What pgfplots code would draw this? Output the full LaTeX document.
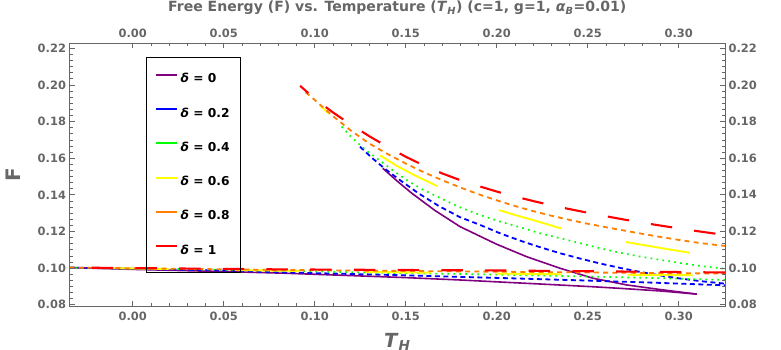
\documentclass[border=0pt]{standalone}
\usepackage{fontspec}
\setmainfont{DejaVu Sans}
\usepackage{pgfplots}
\pgfplotsset{compat=1.18}
\definecolor{axgray}{RGB}{102,102,102}
\definecolor{mpurple}{RGB}{128,0,128}
\definecolor{mblue}{RGB}{0,0,255}
\definecolor{mgreen}{RGB}{0,255,0}
\definecolor{myellow}{RGB}{255,255,0}
\definecolor{morange}{RGB}{255,128,0}
\definecolor{mred}{RGB}{255,0,0}
\pgfplotsset{common/.style={
  scale only axis, width=655.5bp, height=263bp,
  at={(0,0)}, anchor=south west,
  xmin=-0.0347, xmax=0.3254, ymin=0.0793, ymax=0.2229,
  xtick={0,0.05,0.1,0.15,0.2,0.25,0.3},
  ytick={0.08,0.1,0.12,0.14,0.16,0.18,0.2,0.22},
  minor x tick num=4, minor y tick num=5,
  tick align=inside, tick pos=both,
  major tick length=5bp, minor tick length=3bp,
  axis line style={axgray, line width=0.9bp},
  every tick/.style={axgray, line width=0.7bp},
  ticklabel style={font=\fontsize{11.5}{13}\selectfont\bfseries, text=axgray},
  /pgf/number format/fixed, /pgf/number format/fixed zerofill,
  /pgf/number format/precision=2, /pgf/number format/assume math mode=true,
}}
\begin{document}
\begin{tikzpicture}
\begin{axis}[common,
  xticklabel pos=lower, yticklabel pos=left,
  xticklabel style={yshift=-2.7bp},
  title={Free Energy (F) vs. Temperature (\textit{T}\textsubscript{\textit{H}}) (c=1, g=1, \textit{α}\textsubscript{\textit{B}}=0.01)},
  title style={at={(rel axis cs:0.5,1)}, anchor=center, yshift=29bp, font=\fontsize{14.1}{16}\selectfont\bfseries, text=axgray},
  xlabel={\textit{T}\textsubscript{\textit{H}}},
  xlabel style={at={(rel axis cs:0.5,0)}, anchor=base, yshift=-41.6bp, font=\fontsize{19.5}{22}\selectfont\bfseries, text=axgray},
  ylabel={F},
  ylabel style={at={(rel axis cs:0,0.5)}, anchor=center, yshift=56bp, font=\fontsize{20}{22}\selectfont\bfseries, text=axgray},
  legend style={at={(rel axis cs:0,1)}, anchor=north west, xshift=76.5bp, yshift=-14bp,
    draw=black, line width=1.4bp, fill=none,
    font=\fontsize{12.3}{14}\selectfont\bfseries,
    row sep=21.3bp, inner xsep=8bp, inner ysep=15bp,
    nodes={inner xsep=3bp, inner ysep=0pt, text height=10bp, text depth=3bp}},
  legend cell align=left,
  legend image code/.code={\draw[#1] (0bp,4.5bp) -- (21bp,4.5bp);},
]
\addlegendimage{draw=mpurple, line width=2bp, solid}
\addlegendentry{\textit{δ} = 0}
\addlegendimage{draw=mblue, line width=2bp, solid}
\addlegendentry{\textit{δ} = 0.2}
\addlegendimage{draw=mgreen, line width=2bp, solid}
\addlegendentry{\textit{δ} = 0.4}
\addlegendimage{draw=myellow, line width=2bp, solid}
\addlegendentry{\textit{δ} = 0.6}
\addlegendimage{draw=morange, line width=2bp, solid}
\addlegendentry{\textit{δ} = 0.8}
\addlegendimage{draw=mred, line width=2bp, solid}
\addlegendentry{\textit{δ} = 1}

% delta = 0
\addplot[forget plot, draw=mpurple, line width=1.6bp] coordinates {
(0.1374,0.1545) (0.1452,0.1476) (0.1533,0.1409) (0.1660,0.1315) (0.1799,0.1226)
(0.2000,0.1130) (0.2165,0.1062) (0.2348,0.0999) (0.2531,0.0944) (0.2714,0.0908)
(0.2897,0.0883) (0.3099,0.0858)};
\addplot[forget plot, draw=mpurple, line width=1.6bp] coordinates {
(-0.0347,0.1003) (0,0.0993) (0.05,0.0981) (0.0837,0.0972) (0.12,0.0959) (0.15,0.0948)
(0.18,0.0935) (0.2018,0.0924) (0.23,0.0910) (0.2531,0.0898) (0.27,0.0888) (0.29,0.0875) (0.3099,0.0858)};
% delta = 0.2
\addplot[forget plot, draw=mblue, line width=1.8bp, dash pattern=on 5bp off 3.5bp] coordinates {
(0.1249,0.1663) (0.1313,0.1603) (0.1386,0.1542) (0.1459,0.1487) (0.1569,0.1409) (0.1680,0.1340)
(0.1798,0.1278) (0.1908,0.1236) (0.2018,0.1190) (0.2128,0.1150) (0.2238,0.1114) (0.2348,0.1081)
(0.2458,0.1052) (0.2568,0.1025) (0.2678,0.1001) (0.2788,0.0979) (0.2898,0.0960) (0.3007,0.0943)
(0.3117,0.0929) (0.3254,0.0915)};
\addplot[forget plot, draw=mblue, line width=1.8bp, dash pattern=on 5bp off 3.5bp] coordinates {
(-0.0347,0.1003) (0,0.0996) (0.05,0.0987) (0.081,0.0977) (0.136,0.0964) (0.18,0.0952)
(0.2018,0.0946) (0.253,0.0931) (0.29,0.0919) (0.3254,0.0906)};
% delta = 0.4
\addplot[forget plot, draw=mgreen, line width=1.7bp, dash pattern=on 1.7bp off 4.3bp] coordinates {
(0.1148,0.1773) (0.1203,0.1713) (0.1286,0.1640) (0.1377,0.1573) (0.1451,0.1518) (0.1524,0.1469)
(0.1597,0.1427) (0.1652,0.1400) (0.1798,0.1332) (0.1908,0.1290) (0.2018,0.1254) (0.2128,0.1223)
(0.2238,0.1190) (0.2348,0.1163) (0.2458,0.1136) (0.2568,0.1108) (0.2678,0.1084) (0.2788,0.1063)
(0.2898,0.1045) (0.3007,0.1028) (0.3117,0.1012) (0.3254,0.0996)};
\addplot[forget plot, draw=mgreen, line width=1.7bp, dash pattern=on 1.7bp off 4.3bp] coordinates {
(-0.0347,0.1003) (0.05,0.0991) (0.1,0.0982) (0.136,0.0974) (0.18,0.0968) (0.2018,0.0964)
(0.25,0.0954) (0.29,0.0945) (0.3254,0.0935)};
% delta = 0.6
\addplot[forget plot, draw=myellow, line width=1.9bp, dash pattern=on 65bp off 66bp, dash phase=53bp] coordinates {
(0.103,0.1887) (0.110,0.1823) (0.120,0.1737) (0.130,0.1658) (0.1355,0.1618) (0.145,0.1559)
(0.155,0.1506) (0.1667,0.1451) (0.180,0.1396) (0.190,0.1358) (0.2009,0.1318) (0.210,0.1290)
(0.220,0.1262) (0.2352,0.1217) (0.250,0.1184) (0.260,0.1162) (0.2705,0.1143) (0.280,0.1127)
(0.290,0.1110) (0.3058,0.1084) (0.3254,0.1055)};
\addplot[forget plot, draw=myellow, line width=1.9bp, dash pattern=on 65bp off 66bp, dash phase=96.8bp] coordinates {
(-0.0347,0.1003) (0.08,0.0986) (0.198,0.0970) (0.25,0.0965) (0.308,0.0961) (0.3254,0.0960)};
% delta = 0.8
\addplot[forget plot, draw=morange, line width=1.8bp, dash pattern=on 5bp off 4.2bp] coordinates {
(0.095,0.1960) (0.100,0.1918) (0.110,0.1830) (0.120,0.1750) (0.130,0.1680) (0.140,0.1623)
(0.150,0.1571) (0.160,0.1523) (0.170,0.1480) (0.180,0.1440) (0.190,0.1403) (0.200,0.1370)
(0.210,0.1339) (0.220,0.1311) (0.230,0.1286) (0.240,0.1263) (0.250,0.1242) (0.260,0.1223)
(0.270,0.1205) (0.280,0.1187) (0.290,0.1170) (0.300,0.1154) (0.310,0.1139) (0.320,0.1127) (0.3254,0.1121)};
\addplot[forget plot, draw=morange, line width=1.8bp, dash pattern=on 5bp off 4.2bp] coordinates {
(-0.0347,0.1003) (0.08,0.0990) (0.19,0.0981) (0.25,0.0976) (0.3254,0.0970)};
% delta = 1
\addplot[forget plot, draw=mred, line width=2.1bp, dash pattern=on 21.5bp off 22.2bp, dash phase=10.5bp] coordinates {
(0.092,0.1995) (0.100,0.1925) (0.110,0.1850) (0.120,0.1783) (0.130,0.1720) (0.140,0.1662)
(0.150,0.1608) (0.160,0.1560) (0.170,0.1517) (0.180,0.1480) (0.190,0.1448) (0.200,0.1418)
(0.210,0.1391) (0.220,0.1366) (0.230,0.1343) (0.240,0.1322) (0.250,0.1302) (0.260,0.1283)
(0.270,0.1265) (0.280,0.1248) (0.290,0.1232) (0.300,0.1217) (0.310,0.1202) (0.320,0.1188) (0.3254,0.1181)};
\addplot[forget plot, draw=mred, line width=2.1bp, dash pattern=on 21.5bp off 22.2bp, dash phase=21.5bp] coordinates {
(-0.0347,0.1003) (0.081,0.0993) (0.2,0.0987) (0.26,0.0982) (0.3254,0.0976)};
\end{axis}
\begin{axis}[common,
  xticklabel pos=upper, yticklabel pos=right,
  xticklabel style={yshift=2bp},
]
\end{axis}
\pgfresetboundingbox
\path (-69.5bp,-44bp) rectangle (711.5bp,306bp);
\end{tikzpicture}
\end{document}
